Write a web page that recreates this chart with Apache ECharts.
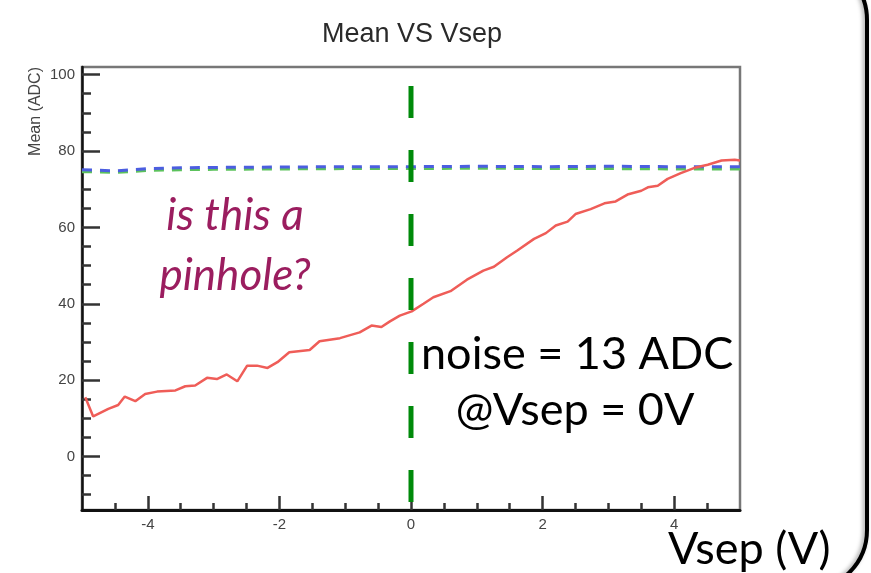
<!DOCTYPE html>
<html>
<head>
<meta charset="utf-8">
<script src="https://cdn.jsdelivr.net/npm/echarts@6/dist/echarts.min.js"></script>
<style>html,body{margin:0;padding:0;background:#fff;}#c{width:871px;height:573px;}</style>
</head>
<body>
<div id="c"></div>
<script>
// ---- data ----
const meanX = [-4.95,-4.83,-4.6,-4.45,-4.35,-4.19,-4.04,-3.86,-3.58,-3.43,-3.28,-3.1,-2.95,-2.8,-2.64,-2.49,-2.34,-2.18,-2.03,-1.85,-1.54,-1.39,-1.08,-0.78,-0.6,-0.45,-0.32,-0.17,0.01,0.19,0.34,0.6,0.85,1.1,1.26,1.46,1.61,1.87,2.05,2.2,2.38,2.5,2.73,2.94,3.11,3.29,3.5,3.6,3.75,3.9,4.1,4.31,4.51,4.72,4.92,5.0];
const meanY = [15.5,10.5,12.5,13.5,15.7,14.5,16.4,17.0,17.3,18.4,18.6,20.6,20.3,21.5,19.7,23.8,23.8,23.2,24.7,27.3,27.9,30.2,31.0,32.5,34.3,33.9,35.4,36.9,38.0,40.0,41.7,43.3,46.3,48.7,49.7,52.2,53.9,57.0,58.5,60.5,61.5,63.5,64.8,66.3,66.8,68.6,69.6,70.5,70.9,72.7,74.2,75.6,76.4,77.5,77.7,77.5];
const refX = [-5,-4.5,-4,-3.5,-3,-2,-1,0,1,2,3,4,5];
const blueY = [75.1,74.8,75.4,75.6,75.7,75.8,75.9,75.9,76.0,75.9,76.0,75.9,75.9];
const greenY = [74.6,74.4,74.9,75.1,75.2,75.3,75.4,75.4,75.5,75.4,75.4,75.3,75.3];
const vsepZeroLine = [[0,97],[0,-12]];
const xMajorTicks = [-4,-2,0,2,4];
const xMinorTicks = [-4.5,-3.5,-3,-2.5,-1.5,-1,-0.5,0.5,1,1.5,2.5,3,3.5,4.5];
const yMajorTicks = [0,20,40,60,80,100];
const yMinorTicks = [-10,-5,5,10,15,25,30,35,45,50,55,65,70,75,85,90,95];

const chart = echarts.init(document.getElementById('c'), null, {renderer:'canvas'});
const zip = (a,b) => a.map((v,i)=>[v,b[i]]);
const labelFont = {color:'#444', fontFamily:'Liberation Sans, Arial, sans-serif', fontSize:15};

chart.setOption({
  animation:false,
  backgroundColor:'#fff',
  grid:{left:82, right:131, top:67, bottom:63, show:true, borderColor:'#777', borderWidth:2.5, backgroundColor:'transparent'},
  xAxis:[
    {type:'value', min:-5, max:5, position:'bottom',
     axisLine:{show:true, onZero:false, lineStyle:{color:'#111', width:3}},
     axisTick:{show:true, inside:true, length:14, customValues:xMajorTicks, lineStyle:{color:'#333', width:2.5}},
     axisLabel:{show:true, customValues:xMajorTicks, margin:7, ...labelFont},
     splitLine:{show:false}},
    {type:'value', min:-5, max:5, position:'bottom',
     axisLine:{show:false, onZero:false}, axisLabel:{show:false}, splitLine:{show:false},
     axisTick:{show:true, inside:true, length:7, customValues:xMinorTicks, lineStyle:{color:'#333', width:2.5}}}
  ],
  yAxis:[
    {type:'value', min:-14, max:102, position:'left',
     axisLine:{show:true, onZero:false, lineStyle:{color:'#111', width:2.5}},
     axisTick:{show:true, inside:true, length:18, customValues:yMajorTicks, lineStyle:{color:'#333', width:2.5}},
     axisLabel:{show:true, customValues:yMajorTicks, margin:7, ...labelFont},
     splitLine:{show:false}},
    {type:'value', min:-14, max:102, position:'left',
     axisLine:{show:false, onZero:false}, axisLabel:{show:false}, splitLine:{show:false},
     axisTick:{show:true, inside:true, length:9, customValues:yMinorTicks, lineStyle:{color:'#333', width:2.5}}}
  ],
  series:[
    {type:'line', data:zip(refX, greenY), showSymbol:false, smooth:false, z:3,
     lineStyle:{color:'#5cc25c', width:3, type:[10,8]}},
    {type:'line', data:zip(refX, blueY), showSymbol:false, smooth:false, z:4,
     lineStyle:{color:'#4c5ee0', width:3, type:[10,8]}},
    {type:'line', data:zip(meanX, meanY), showSymbol:false, smooth:false, z:5,
     lineStyle:{color:'#ef5d58', width:2.5}},
    {type:'line', data:vsepZeroLine, showSymbol:false, z:6,
     lineStyle:{color:'#008a0a', width:5, type:[32,32], cap:'butt'}}
  ],
  graphic:[
    {type:'text', x:412, y:35, style:{text:'Mean VS Vsep', fill:'#2a2a2a', font:'27px "Liberation Sans", Arial, sans-serif', textAlign:'center', textVerticalAlign:'middle'}},
    {type:'text', x:36, y:67, rotation:Math.PI/2, style:{text:'Mean (ADC)', fill:'#444', font:'16px "Liberation Sans", Arial, sans-serif', textAlign:'right', textVerticalAlign:'middle'}},
    {type:'text', x:235, y:216, style:{text:'is this a', fill:'#9b1d5f', font:'italic 44px Lato, sans-serif', textAlign:'center', textVerticalAlign:'middle'}},
    {type:'text', x:235, y:276, style:{text:'pinhole?', fill:'#9b1d5f', font:'italic 44px Lato, sans-serif', textAlign:'center', textVerticalAlign:'middle'}},
    {type:'text', x:421, y:354, style:{text:'noise = 13 ADC', fill:'#000', font:'45px Lato, sans-serif', textAlign:'left', textVerticalAlign:'middle'}},
    {type:'text', x:575, y:410, style:{text:'@Vsep = 0V', fill:'#000', font:'45px Lato, sans-serif', textAlign:'center', textVerticalAlign:'middle'}},
    {type:'text', x:668, y:549, style:{text:'Vsep (V)', fill:'#000', font:'45px Lato, sans-serif', textAlign:'left', textVerticalAlign:'middle'}},
    {type:'rect', shape:{x:-300, y:-40, width:1167, height:630, r:60}, style:{fill:'none', stroke:'#000', lineWidth:4, shadowColor:'rgba(0,0,0,0.35)', shadowBlur:4, shadowOffsetX:-2}}
  ]
});
</script>
</body>
</html>
